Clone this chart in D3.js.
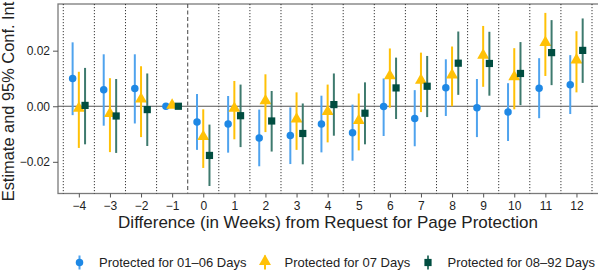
<!DOCTYPE html>
<html><head><meta charset="utf-8">
<script src="https://cdn.jsdelivr.net/npm/d3@7"></script>
<style>body{margin:0;background:#fff}svg{display:block;font-family:"Liberation Sans",Arial,Helvetica,sans-serif}</style>
</head><body><svg id="c" width="598" height="278"></svg>
<script>
const weeks = [-4,-3,-2,-1,0,1,2,3,4,5,6,7,8,9,10,11,12];
const seriesNames = ["Protected for 01\u201306 Days","Protected for 07 Days","Protected for 08\u201392 Days"];
const blueEst = [0.0100,0.0059,0.0064,0,-0.0057,-0.0064,-0.0114,-0.0105,-0.0064,-0.0095,-0.0001,-0.0044,0.0067,-0.0005,-0.0021,0.0065,0.0077];
const blueLo  = [-0.0032,-0.0070,-0.0062,0,-0.0157,-0.0167,-0.0216,-0.0208,-0.0166,-0.0196,-0.0107,-0.0144,-0.0035,-0.0111,-0.0125,-0.0043,-0.0028];
const blueHi  = [0.0230,0.0187,0.0187,0,0.0044,0.0037,-0.0012,-0.0004,0.0038,0.0006,0.0100,0.0058,0.0169,0.0098,0.0083,0.0173,0.0184];
const yelEst = [-0.0011,-0.0030,0.0022,0,-0.0113,-0.0011,0.0016,-0.0050,-0.0023,-0.0055,0.0106,0.0090,0.0109,0.0180,0.0102,0.0226,0.0163];
const yelLo  = [-0.0150,-0.0165,-0.0111,0,-0.0222,-0.0119,-0.0093,-0.0157,-0.0130,-0.0159,-0.0005,-0.0021,0.0000,0.0070,-0.0011,0.0109,0.0050];
const yelHi  = [0.0124,0.0101,0.0144,0,-0.0011,0.0091,0.0115,0.0050,0.0078,0.0046,0.0208,0.0193,0.0215,0.0289,0.0209,0.0336,0.0270];
const grnEst = [0.0003,-0.0035,-0.0012,0,-0.0177,-0.0034,-0.0053,-0.0098,0.0006,-0.0025,0.0066,0.0072,0.0155,0.0154,0.0118,0.0193,0.0201];
const grnLo  = [-0.0137,-0.0168,-0.0143,0,-0.0287,-0.0147,-0.0163,-0.0209,-0.0106,-0.0137,-0.0046,-0.0039,0.0041,0.0038,0.0004,0.0076,0.0084];
const grnHi  = [0.0138,0.0098,0.0118,0,-0.0066,0.0078,0.0055,0.0010,0.0118,0.0086,0.0175,0.0181,0.0269,0.0268,0.0231,0.0310,0.0316];
const yTicks = [-0.02,0.00,0.02];

const colors = ["#1E88E5","#FFC107","#004D40"];
const barColors = ["#4FA3EE","#FFC107","#3E7A6E"];
const offsets = [-0.2,0,0.2];
const shapes = [d3.symbolCircle,d3.symbolTriangle,d3.symbolSquare];
const sizes = [44,62,52];

const svg = d3.select("#c");
const L=58,R=598,T=4,B=193.5;
const x = d3.scaleLinear().domain([-4.67,12.67]).range([L,597.3]);
const y = d3.scaleLinear().domain([-0.0314,0.0368]).range([B,T]);

const g = svg.append("g");
g.append("rect").attr("x",L).attr("y",T).attr("width",R-L+2).attr("height",B-T)
  .attr("fill","none").attr("stroke","#7a7a7a").attr("stroke-width",1.3);

weeks.forEach(w=>{
  if (w === -1) return;
  const xv = x(w+0.5);
  g.append("line").attr("x1",xv).attr("x2",xv).attr("y1",T).attr("y2",B)
   .attr("stroke","#222").attr("stroke-width",0.9).attr("stroke-dasharray","1.2,1.8");
});
g.append("line").attr("x1",x(-4.5)).attr("x2",x(-4.5)).attr("y1",T).attr("y2",B)
   .attr("stroke","#222").attr("stroke-width",0.9).attr("stroke-dasharray","1.2,1.8");
g.append("line").attr("x1",x(-0.5)).attr("x2",x(-0.5)).attr("y1",T).attr("y2",B)
   .attr("stroke","#555").attr("stroke-width",1.1).attr("stroke-dasharray","4,2.5");

g.append("line").attr("x1",L).attr("x2",R).attr("y1",y(0)).attr("y2",y(0))
  .attr("stroke","#555").attr("stroke-width",1.1);

const yAxis = d3.axisLeft(y).tickValues(yTicks).tickSize(5).tickPadding(3)
  .tickFormat(d=>d3.format(".2f")(d).replace("-","\u2212"));
const ya = svg.append("g").attr("transform",`translate(${L},0)`).call(yAxis);
ya.select(".domain").remove();
ya.selectAll("line").attr("stroke","#555");
ya.selectAll("text").attr("font-size",12).attr("fill","#222");

const xAxis = d3.axisBottom(x).tickValues(weeks).tickSize(4).tickPadding(4)
  .tickFormat(d=>String(d).replace("-","\u2212"));
const xa = svg.append("g").attr("transform",`translate(0,${B})`).call(xAxis);
xa.select(".domain").remove();
xa.selectAll("line").attr("stroke","#555");
xa.selectAll("text").attr("font-size",12).attr("fill","#222");

const series = [
  {est:blueEst,lo:blueLo,hi:blueHi},
  {est:yelEst,lo:yelLo,hi:yelHi},
  {est:grnEst,lo:grnLo,hi:grnHi}
];
series.forEach((s,i)=>{
  const sg = svg.append("g");
  weeks.forEach((w,j)=>{
    const xv = x(w+offsets[i]);
    if (s.lo[j] !== s.hi[j]) {
      sg.append("line").attr("x1",xv).attr("x2",xv).attr("y1",y(s.lo[j])).attr("y2",y(s.hi[j]))
        .attr("stroke",barColors[i]).attr("stroke-width",2);
    }
  });
  weeks.forEach((w,j)=>{
    const xv = x(w+offsets[i]);
    sg.append("path").attr("d",d3.symbol().type(shapes[i]).size(sizes[i])())
      .attr("transform",`translate(${xv},${y(s.est[j])+(i===1?-1:0)})`)
      .attr("fill",colors[i]);
  });
});

svg.append("text").attr("x",(L+R)/2).attr("y",228).attr("text-anchor","middle")
  .attr("font-size",17).attr("fill","#222").text("Difference (in Weeks) from Request for Page Protection");
svg.append("text").attr("transform",`translate(14,101.5) rotate(-90)`).attr("text-anchor","middle")
  .attr("font-size",16.4).attr("fill","#222").text("Estimate and 95% Conf. Int");

const legX = [79.5,265,428];
const legY = 262.5;
seriesNames.forEach((n,i)=>{
  const lg = svg.append("g");
  lg.append("line").attr("x1",legX[i]).attr("x2",legX[i]).attr("y1",legY-7).attr("y2",legY+7)
    .attr("stroke",barColors[i]).attr("stroke-width",2);
  lg.append("path").attr("d",d3.symbol().type(shapes[i]).size(sizes[i])())
    .attr("transform",`translate(${legX[i]},${legY+(i===1?-1:0)})`).attr("fill",colors[i]);
  lg.append("text").attr("x",legX[i]+19.5).attr("y",legY+4.5).attr("font-size",13).attr("fill","#222").text(n);
});
</script></body></html>
